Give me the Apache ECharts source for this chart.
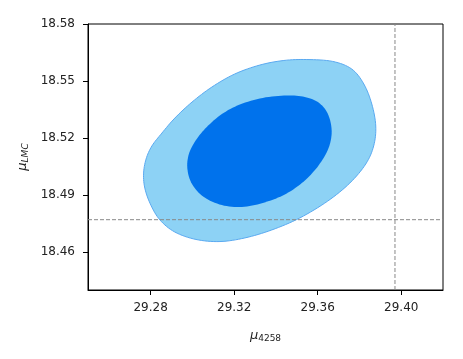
<!DOCTYPE html>
<html lang="en">
<head>
<meta charset="UTF-8">
<title>mu contours</title>
<script src="https://cdn.jsdelivr.net/npm/echarts@6/dist/echarts.min.js"></script>
<style>html,body{margin:0;padding:0;background:#fff}</style>
</head>
<body>
<div id="main" style="width:463px;height:359px;"></div>
<script>
// 95% contour (outer)
let outerX = [29.3548, 29.3672, 29.3763, 29.3821, 29.3859, 29.3878, 29.3868, 29.3830, 29.3754, 29.3648,
  29.3514, 29.3380, 29.3251, 29.3132, 29.3017, 29.2916, 29.2845, 29.2801, 29.2773, 29.2766,
  29.2778, 29.2806, 29.2854, 29.2916, 29.2998, 29.3093, 29.3203, 29.3323, 29.3438];
let outerY = [18.5613, 18.5603, 18.5563, 18.5484, 18.5379, 18.5263, 18.5158, 18.5063, 18.4963, 18.4868,
  18.4779, 18.4716, 18.4674, 18.4655, 18.4666, 18.4705, 18.4768, 18.4847, 18.4932, 18.5011,
  18.5089, 18.5158, 18.5226, 18.5305, 18.5389, 18.5468, 18.5537, 18.5584, 18.5608];
// 68% contour (inner)
let innerX = [29.3452, 29.3538, 29.3601, 29.3644, 29.3665, 29.3663, 29.3639, 29.3591, 29.3524, 29.3438,
  29.3337, 29.3237, 29.3141, 29.3055, 29.2998, 29.2976, 29.2983, 29.3017, 29.3069, 29.3141,
  29.3227, 29.3337];
let innerY = [18.5424, 18.5416, 18.5389, 18.5337, 18.5263, 18.5189, 18.5116, 18.5037, 18.4963, 18.4900,
  18.4858, 18.4837, 18.4847, 18.4889, 18.4958, 18.5037, 18.5116, 18.5189, 18.5258, 18.5326,
  18.5376, 18.5411];
let refX = [29.397];
let refY = [18.477];
let xTicks = [29.28, 29.32, 29.36, 29.40];
let yTicks = [18.46, 18.49, 18.52, 18.55, 18.58];
let xMin = 29.25, xMax = 29.42, yMin = 18.44, yMax = 18.58;

// closed catmull-rom through the projected points, just for a smooth outline
function closedSpline(pts, steps) {
  let out = [];
  let n = pts.length;
  for (let i = 0; i < n; i++) {
    let p0 = pts[(i - 1 + n) % n], p1 = pts[i], p2 = pts[(i + 1) % n], p3 = pts[(i + 2) % n];
    for (let s = 0; s < steps; s++) {
      let t = s / steps, t2 = t * t, t3 = t2 * t;
      let f = (a, b, c, d) => 0.5 * (2 * b + (-a + c) * t + (2 * a - 5 * b + 4 * c - d) * t2 + (-a + 3 * b - 3 * c + d) * t3);
      out.push([f(p0[0], p1[0], p2[0], p3[0]), f(p0[1], p1[1], p2[1], p3[1])]);
    }
  }
  return out;
}

function contour(xs, ys, fill, stroke) {
  return {
    type: 'custom',
    coordinateSystem: 'cartesian2d',
    data: [[xs[0], ys[0]]],
    silent: true,
    renderItem: function (params, api) {
      let pts = xs.map((x, i) => api.coord([x, ys[i]]));
      return {
        type: 'polygon',
        shape: { points: closedSpline(pts, 8) },
        style: { fill: fill, stroke: stroke || null, lineWidth: stroke ? 1 : 0 }
      };
    }
  };
}

function refLine(data) {
  return {
    type: 'line', data: data, silent: true, symbol: 'none',
    lineStyle: { color: '#888', type: [4, 2], width: 1 }
  };
}

let chartDom = document.getElementById('main');
let myChart = echarts.init(chartDom);
let option;
option = {
  animation: false,
  textStyle: { fontFamily: 'DejaVu Sans' },
  grid: { left: 88, right: 20, top: 24, bottom: 69, show: true, borderColor: '#000', borderWidth: 1, backgroundColor: 'transparent' },
  xAxis: {
    type: 'value', min: xMin, max: xMax,
    axisLine: { show: true, onZero: false, lineStyle: { color: '#000', width: 1 } },
    axisTick: { show: true, length: 5, customValues: xTicks, lineStyle: { color: '#000' } },
    axisLabel: { customValues: xTicks, color: '#222', fontSize: 12, margin: 12, formatter: v => v.toFixed(2) },
    splitLine: { show: false },
    name: '{mu|μ}{sub|4258}', nameLocation: 'middle', nameGap: 38,
    nameTextStyle: { rich: { mu: { fontSize: 13, fontStyle: 'italic', color: '#222' }, sub: { fontSize: 9, color: '#222', padding: [6, 0, 0, 0] } } }
  },
  yAxis: {
    type: 'value', min: yMin, max: yMax,
    axisLine: { show: true, onZero: false, lineStyle: { color: '#000', width: 1 } },
    axisTick: { show: true, length: 5, customValues: yTicks, lineStyle: { color: '#000' } },
    axisLabel: { customValues: yTicks, color: '#222', fontSize: 12, margin: 13, formatter: v => v.toFixed(2) },
    splitLine: { show: false },
    name: '{mu|μ}{sub|LMC}', nameLocation: 'middle', nameGap: 58, nameRotate: 90,
    nameTextStyle: { rich: { mu: { fontSize: 13, fontStyle: 'italic', color: '#222' }, sub: { fontSize: 9, fontStyle: 'italic', color: '#222', padding: [6, 0, 0, 0] } } }
  },
  series: [
    contour(outerX, outerY, '#8dd2f5', '#5aa9f0'),
    contour(innerX, innerY, '#0072ec', null),
    refLine([[refX[0], yMin], [refX[0], yMax]]),
    refLine([[xMin, refY[0]], [xMax, refY[0]]])
  ]
};
option && myChart.setOption(option);
</script>
</body>
</html>
